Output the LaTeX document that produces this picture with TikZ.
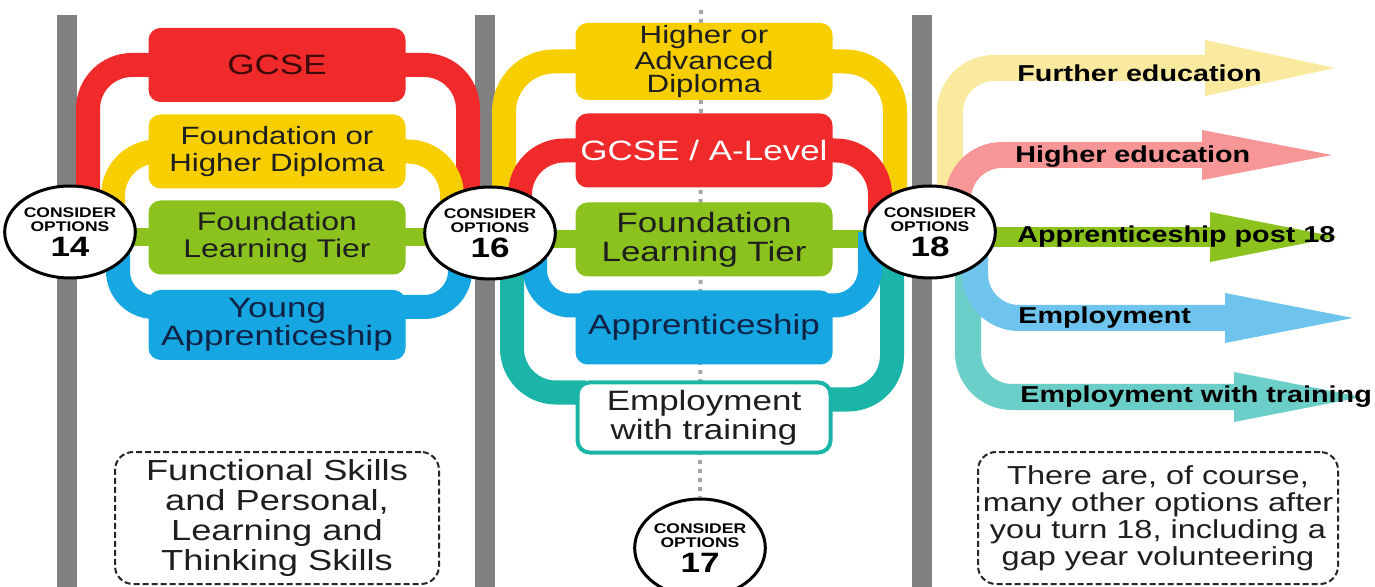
\documentclass[tikz,border=0pt]{standalone}
\usepackage{fontspec}
\setmainfont{Liberation Sans}[FakeStretch=1.25]
\usetikzlibrary{positioning,shapes.geometric,calc,backgrounds}

\definecolor{gcsered}{RGB}{240,42,42}
\definecolor{dipyellow}{RGB}{247,206,0}
\definecolor{fltgreen}{RGB}{140,194,30}
\definecolor{appblue}{RGB}{22,166,226}
\definecolor{ewtteal}{RGB}{27,180,168}
\definecolor{bargray}{RGB}{128,128,128}
\definecolor{paleyellow}{RGB}{250,234,160}
\definecolor{palered}{RGB}{246,150,150}
\definecolor{paleblue}{RGB}{110,196,236}
\definecolor{paleteal}{RGB}{108,206,200}
\definecolor{boxtext}{RGB}{30,30,30}
\definecolor{darkred}{RGB}{60,10,10}
\definecolor{darknavy}{RGB}{15,35,70}

\tikzset{
  optbox/.style={rounded corners=6pt,minimum width=128.5pt,minimum height=37pt,inner sep=0pt,align=center,text=boxtext,font=\fontsize{14}{14.5}\selectfont},
  consider/.style={ellipse,draw=black,line width=1.5pt,fill=white,minimum width=57pt,minimum height=46pt,inner sep=0pt,align=center,font=\bfseries\fontsize{7}{7}\selectfont},
  band/.style={line width=12pt,rounded corners=22pt},
  outshaft/.style={line width=13pt,rounded corners=22pt},
  outlabel/.style={anchor=base west,inner sep=0pt,text=black,font=\bfseries\fontsize{11.5}{12}\selectfont},
  notebox/.style={draw=black!85,line width=1pt,dash pattern=on 3pt off 1.5pt,rounded corners=9pt,align=center,inner sep=0pt,text=boxtext}
}
\newcommand{\optnum}[1]{\\[1.5pt]{\fontsize{14}{14}\selectfont #1}}

\begin{document}
\begin{tikzpicture}[x=0.5pt,y=-0.5pt]
\useasboundingbox (0,0) rectangle (1375,587);

% options at 14
\node[optbox,fill=gcsered,text=darkred] (gcse14) at (277,65) {GCSE};
\node[optbox,fill=dipyellow,font=\fontsize{12.5}{13.5}\selectfont] (dip14) at (277,151.5) {Foundation or\\Higher Diploma};
\node[optbox,fill=fltgreen,font=\fontsize{12.8}{13.5}\selectfont] (flt14) at (277,237.5) {Foundation\\Learning Tier};
\node[optbox,fill=appblue,text=darknavy,minimum height=35pt,font=\fontsize{14}{12.5}\selectfont] (ya14) at (277,325) {Young\\Apprenticeship};

% options at 16
\node[optbox,fill=dipyellow,minimum height=38.5pt,font=\fontsize{12.5}{11.5}\selectfont] (adv16) at (704,61.5) {Higher or\\Advanced\\Diploma};
\node[optbox,fill=gcsered,text=white] (alev16) at (704,150.5) {GCSE / A-Level};
\node[optbox,fill=fltgreen] (flt16) at (704,239.5) {Foundation\\Learning Tier};
\node[optbox,fill=appblue,text=darknavy] (app16) at (704,327.5) {Apprenticeship};
\node[optbox,fill=white,draw=ewtteal,line width=2pt,minimum width=126.5pt,minimum height=35pt] (ewt16) at (704,417.5) {Employment\\with training};

% the decision points
\node[consider] (opt14) at (70,232) {CONSIDER\\OPTIONS\optnum{14}};
\node[consider] (opt16) at (490,233) {CONSIDER\\OPTIONS\optnum{16}};
\node[consider] (opt18) at (930,232) {CONSIDER\\OPTIONS\optnum{18}};
\node[consider,minimum height=49pt] (opt17) at (700,548) {CONSIDER\\OPTIONS\optnum{17}};

% after 18
\coordinate (furtherTip) at (1335,68);
\coordinate (higherTip) at (1332,155);
\coordinate (apprTip) at (1337,237);
\coordinate (empTip) at (1353,318);
\coordinate (ewtTip) at (1362,397);
\node[outlabel] (further) at (1017,82) {Further education};
\node[outlabel] (higher) at (1015,163) {Higher education};
\node[outlabel] (appr18) at (1017,243) {Apprenticeship post 18};
\node[outlabel] (employ) at (1018,324) {Employment};
\node[outlabel] (employtr) at (1020,402) {Employment with training};

\node[notebox,minimum width=162pt,minimum height=66pt,font=\fontsize{14.5}{15}\selectfont] (skills) at (277,518) {Functional Skills\\and Personal,\\Learning and\\Thinking Skills};
\node[notebox,minimum width=180pt,minimum height=66pt,font=\fontsize{13}{13.5}\selectfont] (later) at (1158,518) {There are, of course,\\many other options after\\you turn 18, including a\\gap year volunteering};

\begin{pgfonlayer}{background}
\fill[white] (0,0) rectangle (1375,587);
\fill[bargray] (57,15) rectangle (77,587);
\fill[bargray] (475,15) rectangle (495,587);
\fill[bargray] (912,15) rectangle (932,587);
\coordinate (dottop) at (701,10);
\draw[black!35,line width=2pt,dash pattern=on 2pt off 2.5pt] (dottop) -- (opt17);

% 14 to 16
\draw[band,gcsered] ($(opt14)+(18,0)$) |- ($(gcse14.west)+(10,0)$);
\draw[band,gcsered] ($(gcse14.east)+(-10,0)$) -| ($(opt16)+(-22,0)$);
\draw[band,dipyellow] ($(opt14)+(43,0)$) |- ($(dip14.west)+(10,0)$);
\draw[band,dipyellow] ($(dip14.east)+(-10,0)$) -| ($(opt16)+(-38,0)$);
\draw[line width=9pt,fltgreen] (opt14 |- flt14) -- (opt16 |- flt14);
\draw[band,appblue,rounded corners=18pt] ($(opt14)+(48,0)$) |- ($(ya14.west)+(10,-18)$);
\draw[band,appblue,rounded corners=18pt] ($(ya14.east)+(-10,-18)$) -| ($(opt16)+(-30,0)$);

% 16 to 18
\draw[band,ewtteal] ($(opt16)+(22,0)$) |- ($(ewt16.west)+(10,-25)$);
\draw[band,ewtteal] ($(ewt16.east)+(-10,-18)$) -| ($(opt18)+(-38,0)$);
\draw[band,dipyellow,rounded corners=25pt] ($(opt16)+(14,0)$) |- ($(adv16.west)+(10,0)$);
\draw[band,dipyellow,rounded corners=25pt] ($(adv16.east)+(-10,0)$) -| ($(opt18)+(-35,0)$);
\draw[band,gcsered] ($(opt16)+(30,0)$) |- ($(alev16.west)+(10,0)$);
\draw[band,gcsered] ($(alev16.east)+(-10,0)$) -| ($(opt18)+(-50,0)$);
\draw[line width=9pt,fltgreen] (opt16 |- flt16) -- (opt18 |- flt16);
\draw[band,appblue,rounded corners=18pt] ($(opt16)+(45,0)$) |- ($(app16.west)+(10,-22)$);
\draw[band,appblue,rounded corners=18pt] ($(app16.east)+(-10,-22)$) -| ($(opt18)+(-60,0)$);

% 18 onwards
\draw[outshaft,paleyellow] ($(opt18)+(20,0)$) |- ($(furtherTip)+(-115,0)$);
\fill[paleyellow] (furtherTip) -- ++(-130,-28) -- ++(0,56) -- cycle;
\draw[outshaft,palered] ($(opt18)+(28,0)$) |- ($(higherTip)+(-115,0)$);
\fill[palered] (higherTip) -- ++(-130,-25) -- ++(0,50) -- cycle;
\draw[outshaft,fltgreen,line width=10pt] (opt18 |- apprTip) -- ($(apprTip)+(-110,0)$);
\fill[fltgreen] (apprTip) -- ++(-127,-25) -- ++(0,50) -- cycle;
\draw[outshaft,paleteal] ($(opt18)+(38,0)$) |- ($(ewtTip)+(-115,0)$);
\fill[paleteal] (ewtTip) -- ++(-128,-25) -- ++(0,50) -- cycle;
\draw[outshaft,paleblue] ($(opt18)+(45,0)$) |- ($(empTip)+(-115,0)$);
\fill[paleblue] (empTip) -- ++(-128,-25) -- ++(0,50) -- cycle;
\end{pgfonlayer}
\end{tikzpicture}
\end{document}
